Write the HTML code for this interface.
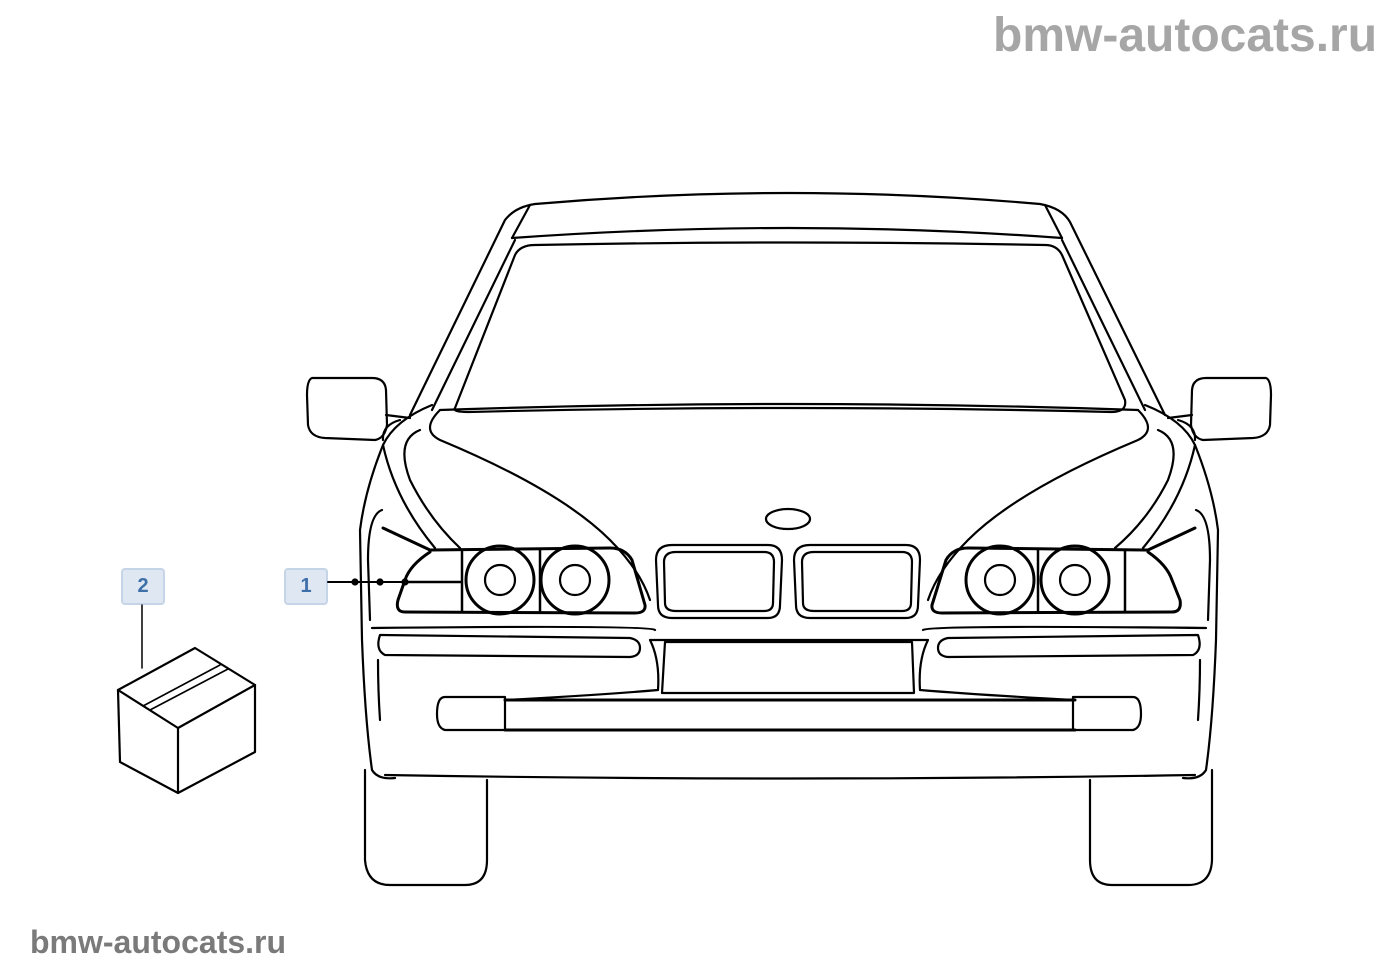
<!DOCTYPE html>
<html><head><meta charset="utf-8"><style>
html,body{margin:0;padding:0;background:#fff;width:1400px;height:980px;overflow:hidden}
.wm{position:absolute;font-family:"Liberation Sans",sans-serif;font-weight:bold;color:#a6a6a6}
.lbl{position:absolute;width:44px;height:37px;background:#dfe8f2;border:2px solid #c5d4e6;border-radius:4px;box-sizing:border-box;font:bold 20px "Liberation Sans",sans-serif;color:#3d6fa8;text-align:center;line-height:33px}
</style></head><body>
<div class="wm" style="left:993px;top:8px;font-size:48px">bmw-autocats.ru</div>
<div class="wm" style="left:30px;top:924px;font-size:32px;color:#7a7a7a">bmw-autocats.ru</div>
<div class="lbl" style="left:284px;top:568px">1</div>
<div class="lbl" style="left:121px;top:568px">2</div>
<svg width="1400" height="980" style="position:absolute;left:0;top:0" fill="none" stroke="#000" stroke-width="2.2" stroke-linejoin="round" stroke-linecap="round">
<path d="M410,415 L505,220 Q515,207 535,204 Q790,182 1040,204 Q1062,208 1070,222 L1165,415"/>
<path d="M512,238 L530,205 M1062,238 L1045,205"/>
<path d="M512,238 Q790,218 1062,238"/>
<path d="M432,410 L515,240 M1145,410 L1062,240"/>
<path d="M455,408 L515,255 Q520,245 535,245 Q790,240 1045,245 Q1057,245 1062,255 L1125,400 Q1127,412 1112,412 Q790,404 468,412 Q452,412 455,408 Z"/>
<path d="M312,378 Q307,380 307,395 L308,425 Q310,437 325,438 L375,440 Q385,438 387,425 L386,390 Q385,378 372,378 Z"/>
<path d="M386,415 L410,418 M383,440 Q382,425 400,420"/>
<path d="M1266,378 Q1271,380 1271,395 L1270,425 Q1268,437 1253,438 L1203,440 Q1193,438 1191,425 L1192,390 Q1193,378 1206,378 Z"/>
<path d="M1192,415 L1168,418 M1195,440 Q1196,425 1178,420"/>
<path d="M432,405 Q395,420 383,445 Q365,490 360,530 L362,640 Q365,720 372,770 Q378,780 395,778"/>
<path d="M1145,405 Q1183,420 1195,445 Q1213,490 1218,530 L1216,640 Q1213,720 1206,770 Q1200,780 1183,778"/>
<path d="M385,775 Q790,782 1195,775"/>
<path d="M440,410 Q420,430 440,440 Q560,490 610,540 Q640,570 650,600"/>
<path d="M1138,410 Q1158,430 1138,440 Q1018,490 968,540 Q938,570 928,600"/>
<path d="M440,410 Q790,398 1138,410"/>
<path d="M420,430 Q395,440 410,480 Q430,520 460,548"/>
<path d="M1158,430 Q1183,440 1168,480 Q1148,520 1115,548"/>
<path d="M383,445 Q395,500 435,548 M1195,445 Q1183,500 1143,548"/>
<path d="M382,510 Q368,515 368,560 L370,620 M1196,510 Q1210,515 1210,560 L1208,620"/>
<ellipse cx="788" cy="519" rx="22" ry="10"/>
<path d="M383,528 L430,550 L610,548 Q625,548 632,560 L645,605 Q646,613 635,613 L405,612 Q395,612 398,600 L405,580 Q410,565 430,552" stroke-width="3"/>
<path d="M462,550 L462,612 M540,550 L540,612 M405,582 L462,582" stroke-width="2.5"/>
<circle cx="500" cy="580" r="34" stroke-width="3"/><circle cx="500" cy="580" r="15"/>
<circle cx="575" cy="580" r="34" stroke-width="3"/><circle cx="575" cy="580" r="15"/>
<path d="M1195,528 L1148,550 L968,548 Q953,548 946,560 L932,605 Q931,613 942,613 L1172,612 Q1182,612 1180,600 L1172,580 Q1167,565 1148,552" stroke-width="3"/>
<path d="M1125,550 L1125,612 M1038,550 L1038,612" stroke-width="2.5"/>
<circle cx="1000" cy="580" r="34" stroke-width="3"/><circle cx="1000" cy="580" r="15"/>
<circle cx="1075" cy="580" r="34" stroke-width="3"/><circle cx="1075" cy="580" r="15"/>
<path d="M672,545 L768,545 Q782,545 782,560 L780,605 Q780,618 768,618 L672,618 Q658,618 658,605 L656,560 Q656,545 672,545 Z"/>
<path d="M676,552 L764,552 Q774,552 774,562 L773,603 Q773,611 764,611 L676,611 Q665,611 665,603 L664,562 Q664,552 676,552 Z"/>
<path d="M810,545 L906,545 Q920,545 920,560 L918,605 Q918,618 906,618 L810,618 Q796,618 796,605 L794,560 Q794,545 810,545 Z"/>
<path d="M814,552 L902,552 Q912,552 912,562 L911,603 Q911,611 902,611 L814,611 Q803,611 803,603 L802,562 Q802,552 814,552 Z"/>
<path d="M372,628 Q650,625 655,630 M1206,628 Q928,625 923,630"/>
<path d="M380,635 L630,638 Q640,640 640,648 Q640,656 630,657 L385,655 Q375,650 380,635 Z"/>
<path d="M1198,635 L948,638 Q938,640 938,648 Q938,656 948,657 L1193,655 Q1203,650 1198,635 Z"/>
<path d="M650,640 L928,640 M650,640 Q660,660 658,690 Q600,695 505,700 M928,640 Q918,660 920,690 Q980,695 1075,700"/>
<path d="M665,642 L912,642 L914,693 L662,693 Z"/>
<path d="M378,660 Q378,690 380,720 M1200,660 Q1200,690 1198,720"/>
<path d="M445,697 L505,697 L505,730 L445,730 Q437,728 437,714 Q437,697 445,697 Z"/>
<path d="M1133,697 L1073,697 L1073,730 L1133,730 Q1141,728 1141,714 Q1141,697 1133,697 Z"/>
<path d="M505,700 L1075,700 M505,730 L1075,730" stroke-width="3"/>
<path d="M365,770 L365,860 Q367,885 390,885 L465,885 Q487,885 487,860 L487,780"/>
<path d="M1090,780 L1090,860 Q1090,885 1112,885 L1188,885 Q1211,885 1212,860 L1212,770"/>
<path d="M328,582 L462,582" stroke-width="2"/>
<circle cx="355" cy="582" r="2.5" fill="#000"/><circle cx="380" cy="582" r="2.5" fill="#000"/><circle cx="405" cy="582" r="2.5" fill="#000"/>
<path d="M142,605 L142,668" stroke-width="1.5"/>
<path d="M118,690 L195,648 L255,685 L178,728 Z"/>
<path d="M118,690 L120,762 L178,793 L178,728 M178,793 L255,752 L255,685"/>
<path d="M143,706 L220,665 M150,710 L228,669" stroke-width="1.6"/>
</svg>
</body></html>
